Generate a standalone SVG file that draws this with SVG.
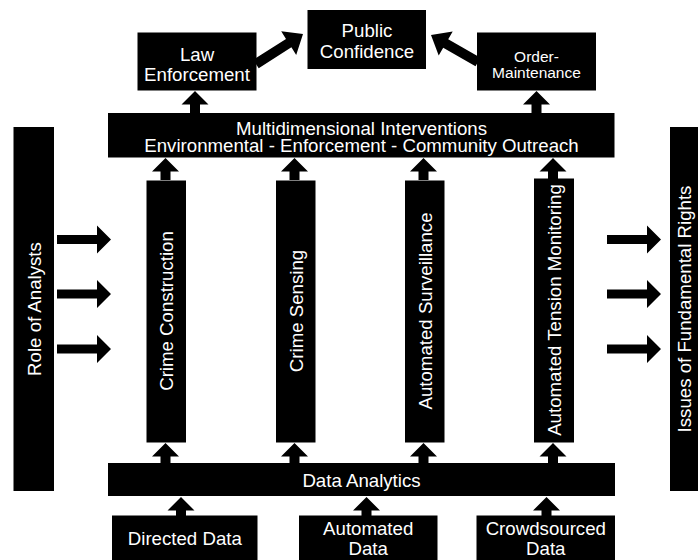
<svg xmlns="http://www.w3.org/2000/svg" xmlns:xlink="http://www.w3.org/1999/xlink" width="698" height="560" viewBox="0 0 698 560">
<style>
  .box { fill: #000; }
  .t { fill: #fff; font-family: "Liberation Sans", Arial, Helvetica, sans-serif; font-size: 18.67px; text-anchor: middle; }
  .ts { font-size: 15.5px; }
  .arrow { fill: #000; }
</style>
<defs>
  <path id="up" d="M0,0 L13.5,13.5 L5,13.5 L5,22 L-5,22 L-5,13.5 L-13.5,13.5 Z"/>
  <path id="upShort" d="M0,0 L13.5,13.5 L5,13.5 L5,20.5 L-5,20.5 L-5,13.5 L-13.5,13.5 Z"/>
  <path id="right" d="M0,-4.5 L40,-4.5 L40,-14 L54,0 L40,14 L40,4.5 L0,4.5 Z"/>
</defs>
<rect width="698" height="560" fill="#fff"/>

<g id="connectors" class="arrow">
  <!-- diagonal arrows to Public Confidence -->
  <polygon points="253.3,59.8 286,38.9 281.2,31.3 303,34 296.2,54.9 291.4,47.3 258.7,68.2"/>
  <polygon points="480.5,57.7 448.2,39.2 452.7,31.4 431,35 438.7,55.6 443.2,47.8 475.5,66.3"/>
  <!-- Multidimensional to Law Enforcement / Order-Maintenance -->
  <use xlink:href="#up" x="195" y="91"/>
  <use xlink:href="#up" x="536.5" y="91"/>
  <!-- bars to Multidimensional -->
  <use xlink:href="#up" x="165.5" y="158"/>
  <use xlink:href="#up" x="294.5" y="158"/>
  <use xlink:href="#up" x="423.5" y="158"/>
  <use xlink:href="#up" x="553" y="158"/>
  <!-- Data Analytics to bars -->
  <use xlink:href="#upShort" x="165.5" y="443"/>
  <use xlink:href="#upShort" x="294.5" y="443"/>
  <use xlink:href="#upShort" x="423.5" y="443"/>
  <use xlink:href="#upShort" x="553" y="443"/>
  <!-- data sources to Data Analytics -->
  <use xlink:href="#up" x="181" y="497"/>
  <use xlink:href="#up" x="366.5" y="497"/>
  <use xlink:href="#up" x="546.5" y="497"/>
  <!-- Role of Analysts arrows -->
  <use xlink:href="#right" x="57" y="239.5"/>
  <use xlink:href="#right" x="57" y="294"/>
  <use xlink:href="#right" x="57" y="349"/>
  <!-- arrows to Issues of Fundamental Rights -->
  <use xlink:href="#right" x="607" y="239.5"/>
  <use xlink:href="#right" x="607" y="294"/>
  <use xlink:href="#right" x="607" y="349"/>
</g>

<g id="public-confidence">
  <rect class="box" x="307.5" y="10" width="118.5" height="59"/>
  <text class="t" x="367" y="36.5">Public</text>
  <text class="t" x="367" y="57.5">Confidence</text>
</g>
<g id="law-enforcement">
  <rect class="box" x="137.5" y="32.5" width="119" height="58"/>
  <text class="t" x="197" y="61">Law</text>
  <text class="t" x="197" y="81">Enforcement</text>
</g>
<g id="order-maintenance">
  <rect class="box" x="477" y="32.5" width="119" height="58"/>
  <text class="t ts" x="536.5" y="62">Order-</text>
  <text class="t ts" x="536.5" y="78">Maintenance</text>
</g>
<g id="multidimensional-interventions">
  <rect class="box" x="108" y="113" width="506.5" height="44.5"/>
  <text class="t" x="361.5" y="135">Multidimensional Interventions</text>
  <text class="t" x="361.5" y="152">Environmental - Enforcement - Community Outreach</text>
</g>
<g id="crime-construction">
  <rect class="box" x="146.5" y="180.5" width="39.5" height="262"/>
  <text class="t" transform="translate(173.3,311) rotate(-90)">Crime Construction</text>
</g>
<g id="crime-sensing">
  <rect class="box" x="276" y="180.5" width="39.5" height="262"/>
  <text class="t" transform="translate(302.8,311) rotate(-90)">Crime Sensing</text>
</g>
<g id="automated-surveillance">
  <rect class="box" x="405" y="180.5" width="39.5" height="262"/>
  <text class="t" transform="translate(431.8,311) rotate(-90)">Automated Surveillance</text>
</g>
<g id="automated-tension-monitoring">
  <rect class="box" x="534" y="178.5" width="40" height="264"/>
  <text class="t" transform="translate(561,310) rotate(-90)">Automated Tension Monitoring</text>
</g>
<g id="data-analytics">
  <rect class="box" x="108" y="463" width="507" height="33"/>
  <text class="t" x="361.5" y="486.5">Data Analytics</text>
</g>
<g id="directed-data">
  <rect class="box" x="112" y="515.5" width="145.5" height="50"/>
  <text class="t" x="184.8" y="545">Directed Data</text>
</g>
<g id="automated-data">
  <rect class="box" x="299" y="515.5" width="138.5" height="50"/>
  <text class="t" x="368.2" y="535">Automated</text>
  <text class="t" x="368.2" y="555">Data</text>
</g>
<g id="crowdsourced-data">
  <rect class="box" x="476.5" y="515.5" width="138.5" height="50"/>
  <text class="t" x="545.8" y="535">Crowdsourced</text>
  <text class="t" x="545.8" y="555">Data</text>
</g>
<g id="role-of-analysts">
  <rect class="box" x="13.5" y="127" width="40.5" height="364"/>
  <text class="t" transform="translate(41.2,309) rotate(-90)">Role of Analysts</text>
</g>
<g id="issues-of-fundamental-rights">
  <rect class="box" x="670" y="127" width="40" height="364"/>
  <text class="t" transform="translate(690.8,309) rotate(-90)">Issues of Fundamental Rights</text>
</g>
</svg>
